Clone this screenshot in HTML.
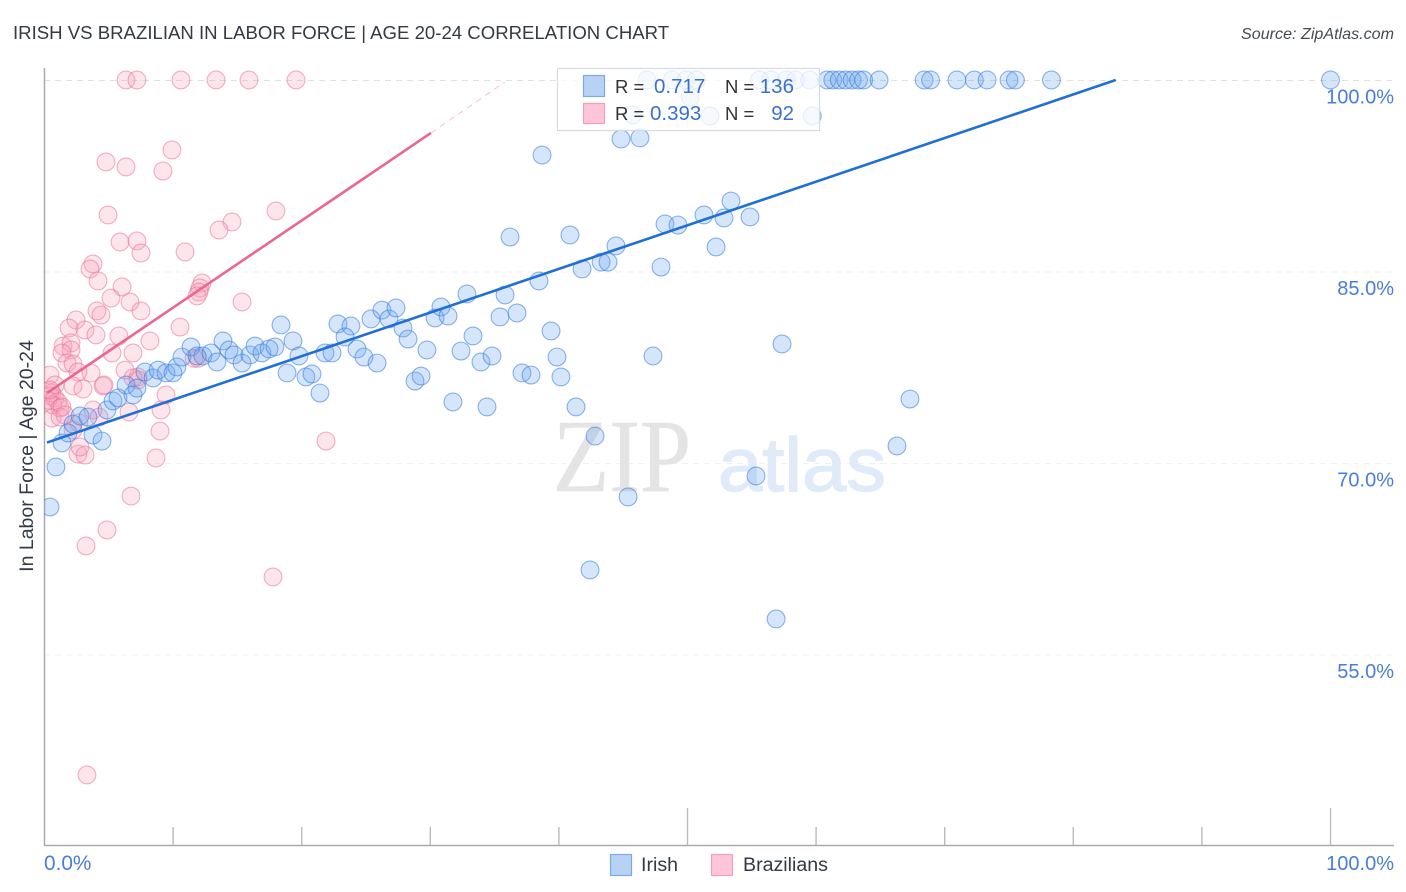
<!DOCTYPE html>
<html lang="en">
<head>
<meta charset="utf-8">
<title>Irish vs Brazilian in Labor Force | Age 20-24 Correlation Chart</title>
<style>
html,body{margin:0;padding:0;background:#fff;}
body{width:1406px;height:892px;overflow:hidden;}
svg{display:block;font-family:"Liberation Sans",sans-serif;}
</style>
</head>
<body>
<svg id="chart" xmlns="http://www.w3.org/2000/svg" width="1406" height="892" viewBox="0 0 1406 892">
  <defs>
    <clipPath id="plot-clip"><rect x="44" y="60" width="1350" height="786"/></clipPath>
  </defs>
  <rect width="1406" height="892" fill="#ffffff"/>
  <text x="13" y="39" font-size="18.6" fill="#333a45">IRISH VS BRAZILIAN IN LABOR FORCE | AGE 20-24 CORRELATION CHART</text>
  <text x="1394" y="39" font-size="16.1" font-style="italic" fill="#444b55" text-anchor="end">Source: ZipAtlas.com</text>
  <g id="grid"></g>
  <g>
    <text x="553" y="491" font-family="'Liberation Serif',serif" font-size="104" fill="#e4e4e4" stroke="#e4e4e4" stroke-width="0.6" textLength="138" lengthAdjust="spacingAndGlyphs">ZIP</text>
    <text x="718" y="491" font-size="76" fill="#e0ebfa" stroke="#e0ebfa" stroke-width="1.4" textLength="168" lengthAdjust="spacingAndGlyphs">atlas</text>
  </g>
  <g id="axes">
    <line x1="44.5" y1="68" x2="44.5" y2="846" stroke="#aaaaaa" stroke-width="1.5"/>
    <line x1="44" y1="845.5" x2="1394" y2="845.5" stroke="#aaaaaa" stroke-width="1.5"/>
  </g>
  <g id="points" clip-path="url(#plot-clip)"></g>
  <g id="trends"></g>
  <g id="y-labels"></g>
  <text x="44" y="870" font-size="20.8" fill="#4a7ddb">0.0%</text>
  <text x="1394" y="870" font-size="20" fill="#4a7ddb" text-anchor="end">100.0%</text>
  <text transform="translate(33,456) rotate(-90)" font-size="19.5" fill="#333a45" text-anchor="middle">In Labor Force | Age 20-24</text>

  <g>
    <rect x="557.5" y="68.5" width="262" height="62" fill="#ffffff" fill-opacity="0.78" stroke="#d6dae2" stroke-width="1.2"/>
    <rect x="583.5" y="75.5" width="21" height="21" fill="#b8d2f6" stroke="#7ea9e8" stroke-width="1.2"/>
    <rect x="583.5" y="103.5" width="21" height="20" fill="#fdc6d8" stroke="#f2a0ba" stroke-width="1.2"/>
    <text x="615" y="93" font-size="18.5" fill="#333">R =</text>
    <text x="654" y="93" font-size="20.5" fill="#3a70cf">0.717</text>
    <text x="725" y="93" font-size="18.5" fill="#333">N =</text>
    <text x="794" y="93" font-size="20.5" fill="#3a70cf" text-anchor="end">136</text>
    <text x="615" y="120" font-size="18.5" fill="#333">R =</text>
    <text x="650" y="120" font-size="20.5" fill="#3a70cf">0.393</text>
    <text x="725" y="120" font-size="18.5" fill="#333">N =</text>
    <text x="794" y="120" font-size="20.5" fill="#3a70cf" text-anchor="end">92</text>
  </g>

  <g>
    <rect x="610.5" y="854.5" width="21" height="21" fill="#b8d2f6" stroke="#7ea9e8" stroke-width="1.2"/>
    <text x="641" y="871" font-size="19.6" fill="#333a45">Irish</text>
    <rect x="711.5" y="854.5" width="21" height="21" fill="#fdc6d8" stroke="#f2a0ba" stroke-width="1.2"/>
    <text x="743" y="871" font-size="19.6" fill="#333a45">Brazilians</text>
  </g>
</svg>
<script>
const yTickValues = [100, 85, 70, 55];
const yTickLabels = ["100.0%", "85.0%", "70.0%", "55.0%"];
const xTickValues = [10, 20, 30, 40, 50, 60, 70, 80, 90, 100];
const xMajorTicks = [50, 100];

const irishX = [46.85,48.8,49.9,50.7,55.6,56.5,57.7,58.4,59.5,60.85,61.3,61.8,62.3,62.8,63.3,63.7,64.9,68.4,68.9,70.95,72.3,73.3,75.0,75.5,78.3,100,
50.2,45.76,51.75,59.7,44.83,46.3,38.69,
0.43,0.89,1.36,1.83,2.22,2.76,3.38,3.77,4.47,4.86,5.33,5.72,6.34,6.88,7.19,7.81,8.44,8.83,9.45,9.99,10.3,10.69,11.39,11.86,12.32,12.95,13.41,13.88,14.35,14.74,15.36,15.98,16.37,16.91,17.46,17.92,18.39,19.32,19.79,18.86,20.33,20.8,21.42,21.81,22.36,22.82,23.83,23.37,24.3,24.84,25.86,25.39,26.24,26.79,27.33,27.88,28.27,29.74,28.81,29.28,30.37,30.83,31.38,32.39,32.85,33.32,33.94,34.8,31.76,34.41,35.42,35.81,36.74,37.13,37.83,38.45,39.39,39.85,40.16,41.33,42.81,45.38,42.42,41.8,43.28,43.82,44.44,40.86,36.2,47.32,47.94,48.25,49.26,51.28,52.84,53.38,54.86,52.22,57.35,67.3,66.29,55.33,56.89];
const irishY = [100,100,100,100,100,100,100,100,100,100,100,100,100,100,100,100,100,100,100,100,100,100,100,100,100,100,
98.67,97.26,97.18,97.18,95.38,95.46,94.12,
66.55,69.69,71.57,72.35,73.05,73.68,73.6,72.19,71.72,74.15,74.86,75.09,76.11,75.33,75.87,77.13,76.66,77.28,77.05,77.05,77.52,78.3,79.09,78.38,78.38,78.62,77.91,79.56,78.85,78.46,77.83,78.46,79.16,78.62,78.93,79.09,80.81,79.56,78.38,77.05,76.74,76.97,75.48,78.62,78.62,80.89,80.73,79.87,78.93,78.3,77.83,81.28,81.98,81.28,82.14,80.57,79.71,78.85,76.42,76.81,81.36,82.22,81.51,78.77,83.24,79.95,77.91,78.38,74.78,74.39,81.44,83.16,81.75,77.05,76.89,84.26,80.34,78.3,76.74,74.39,72.11,67.34,61.62,85.2,85.74,85.74,87.0,87.86,87.7,78.38,85.35,88.72,88.64,89.43,89.19,90.52,89.27,86.92,79.32,75.01,71.33,68.98,57.78];

const brazilX = [6.34,7.19,10.61,13.34,15.9,19.56,9.91,4.78,6.34,9.21,18.0,14.58,13.57,4.94,5.87,7.19,7.5,10.93,3.77,3.54,4.16,12.25,12.09,12.01,11.86,15.36,6.03,5.17,6.65,7.5,4.08,4.39,2.45,1.91,3.15,4.0,10.54,5.79,8.2,1.44,2.06,2.06,5.25,6.88,1.36,1.75,2.22,6.26,7.27,3.62,2.6,4.55,4.63,2.22,2.99,0.43,0.82,0.58,0.43,0.82,1.05,0.27,0.66,1.21,0.43,1.36,0.58,1.21,1.59,3.77,4.24,2.22,6.57,9.45,9.06,8.98,8.67,2.6,3.15,2.76,6.73,4.86,3.23,21.89,17.77,3.3,11.63,11.94,7.27,2.68,6.88];
const brazilY = [100,100,100,100,100,100,94.52,93.58,93.19,92.87,89.74,88.88,88.25,89.43,87.31,87.39,86.45,86.53,85.59,85.2,84.26,84.1,83.71,83.39,83.08,82.61,83.79,82.92,82.61,81.91,81.91,81.59,81.2,80.57,80.42,80.03,80.65,79.95,79.56,79.16,79.4,78.85,78.62,78.62,78.62,77.83,77.75,77.28,76.74,77.05,77.13,76.03,76.11,76.03,75.8,76.89,76.11,75.48,75.25,75.09,74.78,74.93,74.54,74.31,75.72,74.39,73.52,73.6,73.76,74.15,73.6,72.58,73.99,75.33,74.15,72.5,70.39,70.7,70.62,71.25,67.41,64.75,63.5,71.72,61.07,45.56,78.2,78.2,76.5,73.13,76.66];

const irishTrendX = [0.19, 83.3];
const irishTrendY = [71.6, 100];
const brazilTrendX = [0.19, 30.05];
const brazilTrendY = [75.48, 95.85];
const brazilExtensionX = [30.05, 35.8];
const brazilExtensionY = [95.85, 99.84];

const SVG_NS = "http://www.w3.org/2000/svg";
function xScale(v) { return 44.5 + v * 12.86; }
function yScale(v) { return 80 + (100 - v) * 12.766; }
function make(tag, parent, attrs) {
  const el = document.createElementNS(SVG_NS, tag);
  Object.keys(attrs).forEach(function (k) { el.setAttribute(k, attrs[k]); });
  parent.appendChild(el);
  return el;
}

const gridGroup = document.getElementById("grid");
const axesGroup = document.getElementById("axes");
const yLabelGroup = document.getElementById("y-labels");
const pointsGroup = document.getElementById("points");
const trendsGroup = document.getElementById("trends");

yTickValues.forEach(function (v, i) {
  const line = make("line", gridGroup, {
    x1: 44, x2: 1394, y1: yScale(v) + 0.5, y2: yScale(v) + 0.5,
    stroke: i === 0 ? "#e0e0e0" : "#f0f0f0", "stroke-width": 1, "stroke-dasharray": "6 5"
  });
  
  
  const label = make("text", yLabelGroup, {
    x: 1394, y: yScale(v) + 23.5, "font-size": 20, fill: "#4a7ddb", "text-anchor": "end"
  });
  label.textContent = yTickLabels[i];
  
  
});

xTickValues.forEach(function (v) {
  const major = xMajorTicks.indexOf(v) >= 0;
  const tick = make("line", axesGroup, {
    x1: xScale(v), x2: xScale(v), y1: major ? 808 : 827, y2: 845,
    stroke: "#bbbbbb", "stroke-width": 1.4
  });
  
  
});

function drawSeries(xs, ys, fill, stroke, name) {
  xs.forEach(function (v, i) {
    const c = make("circle", pointsGroup, {
      cx: xScale(v), cy: yScale(ys[i]), r: 8.9,
      fill: fill, "fill-opacity": 0.28, stroke: stroke, "stroke-opacity": 0.55, "stroke-width": 1.1
    });
    
    
  });
}
drawSeries(brazilX, brazilY, "#f7a0bc", "#ea6f98", "brazilians-point");
drawSeries(irishX, irishY, "#6ba4ee", "#2f78dc", "irish-point");

const extension = make("line", trendsGroup, {
  x1: xScale(brazilExtensionX[0]), y1: yScale(brazilExtensionY[0]),
  x2: xScale(brazilExtensionX[1]), y2: yScale(brazilExtensionY[1]),
  stroke: "#f7c0d2", "stroke-width": 1, "stroke-dasharray": "6 5"
});



const brazilTrend = make("line", trendsGroup, {
  x1: xScale(brazilTrendX[0]), y1: yScale(brazilTrendY[0]),
  x2: xScale(brazilTrendX[1]), y2: yScale(brazilTrendY[1]),
  stroke: "#ec6692", "stroke-width": 2.6
});



const irishTrend = make("line", trendsGroup, {
  x1: xScale(irishTrendX[0]), y1: yScale(irishTrendY[0]),
  x2: xScale(irishTrendX[1]), y2: yScale(irishTrendY[1]),
  stroke: "#1f6fd6", "stroke-width": 2.6
});


</script>
</body>
</html>
